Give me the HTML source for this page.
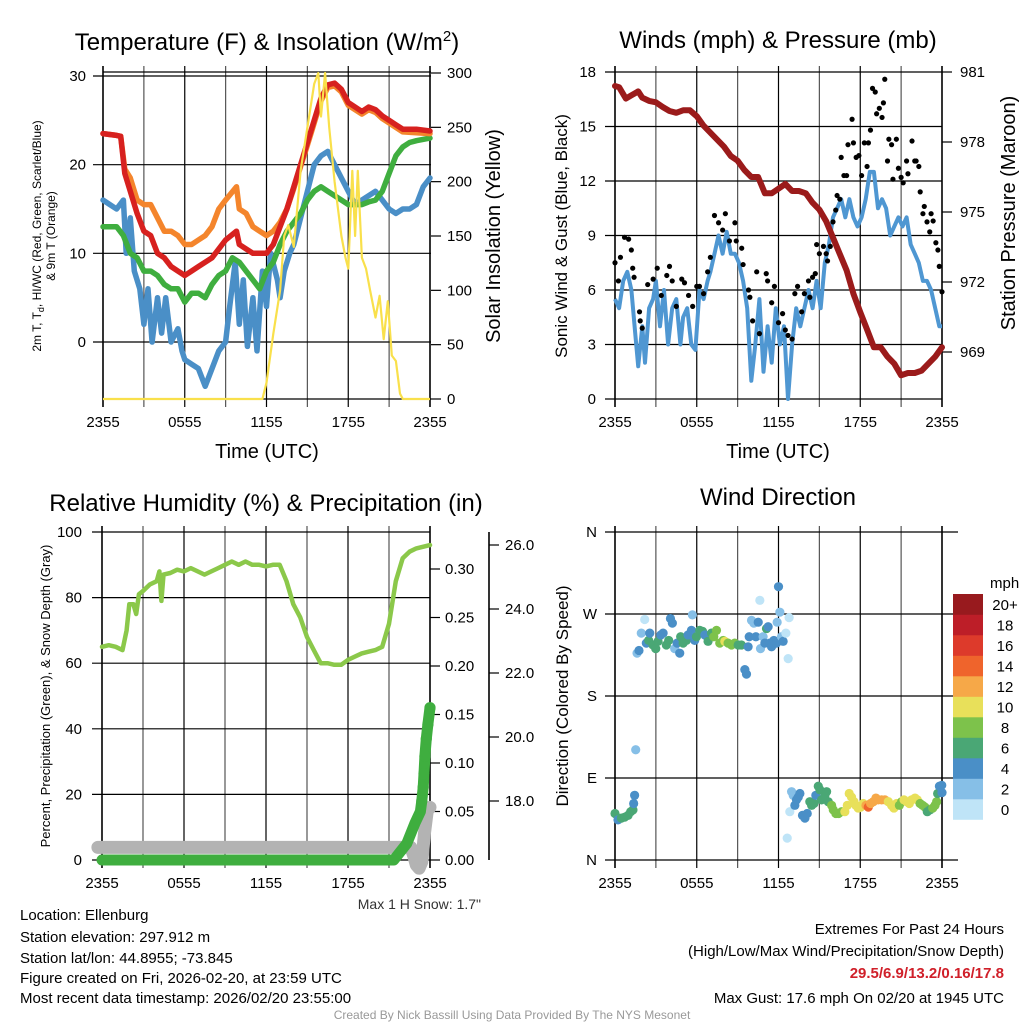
<!DOCTYPE html>
<html><head><meta charset="utf-8"><style>
html,body{margin:0;padding:0;background:#fff;}
svg{display:block;font-family:"Liberation Sans",sans-serif;}
</style></head><body>
<svg id="fig" width="1024" height="1024" viewBox="0 0 1024 1024" xmlns="http://www.w3.org/2000/svg">
<rect width="1024" height="1024" fill="#fff"/>
<text x="267" y="50" font-size="24" text-anchor="middle">Temperature (F) &amp; Insolation (W/m<tspan dy="-9" font-size="15">2</tspan><tspan dy="9">)</tspan></text>
<text x="778" y="48" font-size="24" text-anchor="middle">Winds (mph) &amp; Pressure (mb)</text>
<text x="266" y="511" font-size="24" text-anchor="middle">Relative Humidity (%) &amp; Precipitation (in)</text>
<text x="778" y="505" font-size="24" text-anchor="middle">Wind Direction</text>
<text x="267" y="458" font-size="20" text-anchor="middle">Time (UTC)</text>
<text x="778" y="458" font-size="20" text-anchor="middle">Time (UTC)</text>
<g transform="translate(41,236) rotate(-90)" font-size="12" text-anchor="middle">
<text y="0">2m T, T<tspan font-size="9" dy="3">d</tspan><tspan dy="-3">, HI/WC (Red, Green, Scarlet/Blue)</tspan></text>
<text y="14">&amp; 9m T (Orange)</text>
<text y="28"></text>
</g>
<text transform="translate(500,236) rotate(-90)" font-size="20" text-anchor="middle">Solar Insolation (Yellow)</text>
<text transform="translate(567,236) rotate(-90)" font-size="17" text-anchor="middle">Sonic Wind &amp; Gust (Blue, Black)</text>
<text transform="translate(1015,213) rotate(-90)" font-size="20" text-anchor="middle">Station Pressure (Maroon)</text>
<text transform="translate(50,696) rotate(-90)" font-size="13" text-anchor="middle">Percent, Precipitation (Green), &amp; Snow Depth (Gray)</text>
<text transform="translate(568,696) rotate(-90)" font-size="17" text-anchor="middle">Direction (Colored By Speed)</text>
<text x="481" y="909" font-size="14" text-anchor="end" fill="#333">Max 1 H Snow: 1.7"</text>
<g font-size="15">
<text x="20" y="920">Location: Ellenburg</text>
<text x="20" y="942">Station elevation: 297.912 m</text>
<text x="20" y="963">Station lat/lon: 44.8955; -73.845</text>
<text x="20" y="983">Figure created on Fri, 2026-02-20, at 23:59 UTC</text>
<text x="20" y="1003">Most recent data timestamp: 2026/02/20 23:55:00</text>
</g>
<g font-size="15" text-anchor="end">
<text x="1004" y="934">Extremes For Past 24 Hours</text>
<text x="1004" y="956">(High/Low/Max Wind/Precipitation/Snow Depth)</text>
<text x="1004" y="978" fill="#d0202a" font-weight="bold">29.5/6.9/13.2/0.16/17.8</text>
<text x="1004" y="1003">Max Gust: 17.6 mph On 02/20 at 1945 UTC</text>
</g>
<text x="512" y="1019" font-size="12" text-anchor="middle" fill="#999">Created By Nick Bassill Using Data Provided By The NYS Mesonet</text>
</svg>
<script>
// ===== Temperature panel data =====
const tempHours=[0,0.5,1,1.3,1.6,2,2.5,3,3.5,4,4.5,5,5.5,6,6.5,7,7.5,8,8.5,9,9.8,10,10.5,11,11.5,12,12.5,13,13.5,14,14.5,15,15.5,16,16.5,17,17.5,18,18.5,19,19.5,20,20.5,21,21.5,22,23,24];
const tempRed=[23.5,23.4,23.3,23.2,19,17,14.5,12.5,12,10,9.5,8.5,8,7.5,8,8.5,9,9.5,10.5,11.5,12.5,11,10.5,10,10,10,11,13,15,17.5,20,22.5,25,27.5,29,29.2,28.5,27,26.5,26,26.5,26.2,25.5,25,24.5,24,24,23.8];
const tempOrange=[23.5,23.4,23.3,23.2,19.5,18.5,16,15.5,15.5,14,12.5,12.5,12,11,11,11.5,12,13,15,16,17.5,15,14.5,13,12.5,12,12.5,13.5,15,17.3,19.8,22.2,24.7,27.2,28.7,28.9,28.2,26.7,26.2,25.7,26.2,25.9,25.2,24.7,24.2,23.7,23.6,23.5];
const dewHours=[0,1,1.5,2,2.5,3,3.5,4,4.5,5,5.5,6,6.5,7,7.5,8,8.5,9,9.5,10,10.5,11,11.5,12,12.5,13,13.5,14,14.5,15,15.5,16,16.5,17,17.5,18,18.5,19,19.5,20,20.5,21,21.5,22,22.5,23,24];
const dewGreen=[13,13,12,10,9.5,8,8,7.5,6.5,6,6,4.5,5.5,5.5,5,6.5,7.5,8,9.5,9,8,7,6,8,9,11,12.5,13.5,14.5,16,17,17.5,17,16.5,16,15.5,15.5,15.5,15.8,16,17,19,21,22,22.5,22.7,23];
const hiHours=[0,0.5,1,1.5,1.7,2,2.3,2.7,3,3.3,3.6,4,4.3,4.6,5,5.5,5.8,6,6.5,7,7.5,8,8.5,9,9.3,9.7,10,10.3,10.6,11,11.3,11.7,12,12.3,12.8,13,13.3,13.7,14,14.5,15,15.5,16,16.5,17,17.5,18,18.5,19,19.5,20,20.5,21,21.5,22,22.5,23,23.5,24];
const hiBlue=[16,15.5,15,16,10,14,8,6,2,6,0,5,1,5,0,1.5,-1,-2,-2.5,-3,-5,-3,-1,0,4,9,2,7,-0.5,5,-1,8,4,10,7,5,8,10,11,14,17,20,21,21.5,20,18.5,17,15.5,16,16.5,17,16,15,14.5,15,15,15.5,17.5,18.5];
const solarHours=[0,11.7,12,12.5,13,13.3,13.6,14,14.5,15,15.5,15.8,16,16.3,16.6,17,17.5,17.8,18,18.3,18.5,18.7,19,19.3,19.6,20,20.3,20.6,20.9,21.2,21.5,21.8,22,24];
const solarYellow=[0,0,15,60,100,150,160,140,210,250,290,300,260,300,250,200,150,130,120,210,150,210,130,120,100,75,95,55,90,40,35,5,0,0];
const tempTicks=[0,10,20,30];
const solarTicks=[0,50,100,150,200,250,300];
const timeLabels=['2355','0555','1155','1755','2355'];
// ===== Wind panel data =====
const windHours=[0,0.3,0.6,0.9,1.2,1.5,1.7,2,2.2,2.5,2.8,3,3.3,3.6,3.9,4.2,4.5,4.8,5,5.3,5.6,5.9,6.2,6.5,6.8,7,7.3,7.6,7.9,8.2,8.5,8.8,9.1,9.4,9.7,10,10.3,10.6,10.9,11.2,11.5,11.8,12.1,12.4,12.7,13,13.3,13.6,13.9,14.2,14.5,14.8,15.1,15.4,15.7,16,16.3,16.6,16.9,17.2,17.5,17.8,18.1,18.4,18.7,19,19.3,19.6,19.9,20.2,20.5,20.8,21.1,21.4,21.7,22,22.3,22.6,22.9,23.2,23.5,23.8,24];
const windBlue=[5.5,5,6.5,7,6,3.5,1.8,4,2,5,5.5,6.5,4,6,3,5,5.5,3,4.5,5,3,2.7,6,5.5,6.5,7,8,9,8,9.2,8,8,7.5,6.5,5,1,3,5.5,1.5,4,2,5,3,4,0,3,5,4,5,6,5,6.5,5,7.5,8.5,10,10.5,11,10,11,10,9.5,10,11,12.5,12.5,10.5,11,10.5,9,9.5,10,9.5,10,8.5,8,7.5,6.5,6.5,6,5,4,4];
const gustHours=[0,0.25,0.4,0.7,1.0,1.2,1.3,1.4,1.8,1.85,2.0,2.4,2.8,3.1,3.4,3.8,4.0,4.2,4.5,4.9,5.1,5.4,5.7,6.0,6.2,6.5,6.8,7.0,7.3,7.6,7.9,8.1,8.4,8.8,8.9,9.3,9.4,9.8,9.9,10.1,10.4,10.6,11.1,11.2,11.5,11.7,12.0,12.3,12.5,12.7,13.0,13.2,13.4,13.7,13.9,14.2,14.3,14.5,14.7,14.8,15.0,15.3,15.5,15.6,15.8,16.0,16.2,16.3,16.5,16.6,16.8,17.0,17.1,17.4,17.5,17.7,17.9,18.1,18.3,18.5,18.6,18.75,18.9,19.1,19.2,19.4,19.6,19.7,19.8,20.0,20.1,20.3,20.4,20.65,20.8,21.0,21.15,21.4,21.5,21.8,22.0,22.1,22.3,22.4,22.6,22.7,22.9,23.1,23.2,23.35,23.55,23.7,23.8,24];
const gustBlack=[7.5,6.5,7.8,8.9,8.8,8.2,7.2,6.7,4.8,4.3,3.9,6.3,6.6,7.2,5.7,6.8,7.3,6.5,5.1,6.6,6.4,5.7,5.1,6.2,6.2,5.8,7.0,7.8,10.1,9.7,9.3,10.2,8.7,9.7,8.7,8.3,7.4,6.0,5.6,4.3,7.0,3.6,6.9,6.5,5.3,6.2,4.2,4.7,3.8,3.5,3.3,5.8,6.2,4.8,5.8,6.5,5.6,6.7,6.9,8.5,8.0,8.4,8.0,7.6,8.4,9.75,10.4,11.2,11.0,13.3,12.3,12.3,14.0,15.4,14.1,13.3,13.4,12.3,14.1,12.8,14.1,14.8,17.1,16.9,15.7,16.0,15.5,16.3,17.6,13.1,14.3,14.0,12.1,14.3,12.7,12.2,11.9,13.1,12.4,14.2,13.1,13.1,12.8,11.4,10.2,10.6,9.75,9.2,10.2,9.8,8.6,8.2,7.3,5.9];
const presHours=[0,0.3,0.8,1.2,1.7,2,2.5,3,3.5,4,4.5,5,5.5,6,6.5,7,7.5,8,8.5,9,9.5,10,10.5,11,11.5,12,12.5,13,13.5,14,14.5,15,15.5,16,16.5,17,17.5,18,18.5,19,19.5,20,20.5,21,21.5,22,22.5,23,23.5,24];
const presMaroon=[980.4,980.35,979.86,980.0,980.17,979.9,979.76,979.7,979.5,979.33,979.25,979.36,979.36,979.1,978.7,978.4,978.1,977.8,977.4,977.2,976.8,976.5,976.5,975.8,975.8,976.0,976.2,975.9,975.9,975.8,975.4,975.1,974.6,973.9,973.2,972.5,971.5,970.7,969.96,969.2,969.2,968.8,968.5,968.0,968.1,968.1,968.2,968.5,968.8,969.2];
const windTicks=[0,3,6,9,12,15,18];
const presTicks=[969,972,975,978,981];
// ===== RH panel data =====
const rhHours=[0,0.5,1,1.5,1.8,2,2.3,2.5,2.7,3,3.5,4,4.2,4.35,4.5,5,5.5,6,6.5,7,7.5,8,8.5,9,9.5,10,10.5,11,11.5,12,12.5,13,13.5,14,14.5,15,15.5,16,16.5,17,17.5,18,18.5,19,19.5,20,20.5,21,21.5,22,22.5,23,24];
const rhGreen=[65,65.5,65,64,70,78,78,75,81,82,84,85,88,79,87,87.5,88.5,88,89,88,87,88,89,90,91,90,91,90,90,89.5,90,90,85,78,74,68,64,60,60,59.5,59.5,61,62,63,63.5,64,65,72,85,92,94,95,96];
const precipHours=[0,21.35,22.3,22.9,23.3,23.4,23.5,23.56,23.63,23.73,23.85,24];
const precipIn=[0,0,0.017,0.038,0.05,0.061,0.075,0.089,0.107,0.125,0.14,0.157];
const snowHours=[-0.3,22.6,22.8,23.0,23.2,23.4,23.6,23.8,24];
const snowDepth=[16.55,16.55,16.3,16.0,15.9,16.1,17.0,17.7,17.8];
const rhTicks=[0,20,40,60,80,100];
const precipTicks=['0.00','0.05','0.10','0.15','0.20','0.25','0.30'];
const snowTicks=['18.0','20.0','22.0','24.0','26.0'];
// ===== Wind direction data =====
const dirHours=[0,0.22,0.47,0.71,0.96,1.15,1.32,1.37,1.44,1.52,1.62,1.76,1.93,2.18,2.3,2.47,2.55,2.79,2.99,3.16,3.36,3.53,3.77,3.94,4.07,4.21,4.38,4.56,4.75,4.82,5.0,5.24,5.36,5.61,5.68,5.85,5.98,6.22,6.42,6.59,6.83,7.08,7.25,7.45,7.69,7.94,8.06,8.3,8.55,8.79,9.04,9.28,9.53,9.65,9.77,9.85,10.02,10.19,10.34,10.51,10.63,10.68,10.87,11.0,11.12,11.24,11.36,11.49,11.66,11.85,11.9,12.0,12.1,12.22,12.34,12.54,12.64,12.71,12.78,12.83,12.96,13.08,13.2,13.32,13.45,13.57,13.76,13.94,14.11,14.3,14.43,14.6,14.74,14.92,15.04,15.16,15.41,15.53,15.65,15.9,16.02,16.21,16.41,16.63,16.87,17.05,17.19,17.36,17.54,17.68,17.85,18.03,18.22,18.42,18.59,18.76,18.96,19.15,19.32,19.57,19.81,20.06,20.3,20.47,20.67,20.87,21.04,21.21,21.41,21.6,21.77,22.02,22.19,22.39,22.58,22.75,22.92,23.12,23.32,23.49,23.61,23.68,23.81,23.98,24];
const dirDeg=[51,44,46,47,49,53,55,62,71,121,227,230,249,264,238,241,249,236,232,240,247,249,236,241,265,260,232,238,227,245,238,241,247,252,269,241,245,252,251,247,240,249,245,252,238,241,240,238,236,238,236,236,209,204,234,245,263,260,245,261,285,232,245,238,254,256,238,234,241,238,261,300,272,245,240,249,24,221,266,53,75,71,60,66,69,73,49,46,51,64,60,62,71,81,77,66,71,75,64,60,55,51,51,53,53,60,73,69,64,60,57,58,62,60,58,62,64,68,66,66,66,64,60,57,62,60,64,66,64,62,66,68,66,62,60,58,53,55,57,60,64,73,81,82,74];
const dirSpeed=[6,4,6,6,6,6,6,4,4,2,2,4,2,0,4,6,4,6,6,6,4,4,6,6,4,4,2,4,4,6,6,6,4,4,2,4,6,6,6,4,6,6,8,8,8,8,10,8,8,8,6,6,4,4,4,4,2,2,4,4,0,2,2,4,6,4,4,4,4,4,2,4,2,2,4,0,0,0,0,0,2,2,4,4,4,4,4,4,4,6,6,6,4,6,6,6,6,6,6,8,8,8,8,8,10,10,10,10,10,10,10,10,10,12,14,12,12,12,12,12,12,10,10,10,10,8,8,10,10,10,10,10,10,8,8,8,6,6,8,8,8,6,4,4,4];
const dirTicks=['N','E','S','W','N'];
const speedBins=['0','2','4','6','8','10','12','14','16','18','20+'];
const binColors=['#bfe4f7','#86bfe7','#4a8fc7','#4aa775','#7dc24b','#e8e05a','#f6a848','#ef642c','#dd3a2b','#bd1e28','#981a1e'];

const NS='http://www.w3.org/2000/svg';
const svg=document.getElementById('fig');
function mk(tag,attrs,parent){const e=document.createElementNS(NS,tag);for(const k in attrs)e.setAttribute(k,attrs[k]);(parent||svg).appendChild(e);return e;}

// axis functions
const X1=t=>103+t*327/24, yT=v=>342-v*266/30, yS=v=>399-v*326/300;
const X2=t=>615+t*327/24, yW=v=>399-v*327/18, yP=v=>352-(v-969)*280/12;
const X3=t=>102+t*328/24, yRH=v=>860-v*3.28, yPr=v=>860-v*291/0.30, ySn=v=>801-(v-18)*32;
const X4=t=>615+t*327/24, yD=d=>860-d*328/360;

function frame(X,top,bot,name){
  const g=mk('g',{});
  
  
  for(let h=0;h<=24;h+=3){
    const l=mk('line',{x1:X(h),x2:X(h),y1:top-6,y2:bot+8,stroke:(h%6==0)?'#000':'#555','stroke-width':(h==0||h==24)?1.6:1.2},g);
    
    
  }
  for(let i=0;i<5;i++){
    const tx=mk('text',{x:X(i*6),y:bot+28,'font-size':15,'text-anchor':'middle'},g);
    tx.textContent=timeLabels[i];
    
    
  }
  return g;
}
function hgrid(g,X0,X1e,y,lbl,lx,anchor){
  const l=mk('line',{x1:X0-10,x2:X1e+10,y1:y,y2:y,stroke:'#000','stroke-width':1.2},g);
  
  
  if(lbl!==null){
    const t=mk('text',{x:lx,y:y+5,'font-size':15,'text-anchor':anchor},g);
    t.textContent=lbl;
    
    
  }
}
function pathD(xs,ys){return xs.map((x,i)=>(i?'L':'M')+x.toFixed(1)+' '+ys[i].toFixed(1)).join(' ');}

// ---------- Panel 1 ----------
{
  const g=frame(X1,72,399,'temp');
  mk('line',{x1:103,x2:431,y1:72,y2:72,stroke:'#000','stroke-width':1.2},g);
  tempTicks.forEach(v=>hgrid(g,103,421,yT(v),String(v),86,'end'));
  solarTicks.forEach(v=>{
    const l=mk('line',{x1:431,x2:441,y1:yS(v),y2:yS(v),stroke:'#000','stroke-width':1.2},g);
    
    
    const t=mk('text',{x:447,y:yS(v)+5,'font-size':15},g);
    t.textContent=String(v);
    
    
  });
  mk('line',{x1:103,x2:431,y1:399,y2:399,stroke:'#000','stroke-width':1.2},g);
  const series=[[hiHours,hiBlue,'#4a8fc7','hi-wc-line'],[dewHours,dewGreen,'#3fae3f','dewpoint-line'],[tempHours,tempOrange,'#f4852c','temp-9m-line'],[tempHours,tempRed,'#d7211f','temp-2m-line']];
  series.forEach(s=>{
    const p=mk('path',{d:pathD(s[0].map(X1),s[1].map(yT)),fill:'none',stroke:s[2],'stroke-width':5.5,'stroke-linejoin':'round','stroke-linecap':'round'});
    
    
  });
  const sp=mk('path',{d:pathD(solarHours.map(X1),solarYellow.map(yS)),fill:'none',stroke:'#f9e04b','stroke-width':2.2,'stroke-linejoin':'round'});
  
  
}
// ---------- Panel 2 ----------
{
  const g=frame(X2,72,399,'winds');
  windTicks.forEach(v=>hgrid(g,615,932,yW(v),String(v),596,'end'));
  presTicks.forEach(v=>{
    const l=mk('line',{x1:942,x2:952,y1:yP(v),y2:yP(v),stroke:'#000','stroke-width':1.2},g);
    
    
    const t=mk('text',{x:960,y:yP(v)+5,'font-size':15},g);
    t.textContent=String(v);
    
    
  });
  const wp=mk('path',{d:pathD(windHours.map(X2),windBlue.map(yW)),fill:'none',stroke:'#4f97d2','stroke-width':4,'stroke-linejoin':'round'});
  
  
  gustHours.forEach((h,i)=>{
    const c=mk('circle',{cx:X2(h),cy:yW(gustBlack[i]),r:2.6,fill:'#000'});
    
    
  });
  const pp=mk('path',{d:pathD(presHours.map(X2),presMaroon.map(yP)),fill:'none',stroke:'#9b1b1b','stroke-width':6,'stroke-linejoin':'round','stroke-linecap':'round'});
  
  
}
// ---------- Panel 3 ----------
{
  const g=frame(X3,532,860,'rh');
  rhTicks.forEach(v=>hgrid(g,102,420,yRH(v),String(v),82,'end'));
  precipTicks.forEach(s=>{
    const y=yPr(parseFloat(s));
    const l=mk('line',{x1:430,x2:440,y1:y,y2:y,stroke:'#000','stroke-width':1.2},g);
    
    
    const t=mk('text',{x:445,y:y+5,'font-size':15},g);
    t.textContent=s;
    
    
  });
  const ax=mk('line',{x1:489,x2:489,y1:532,y2:860,stroke:'#000','stroke-width':1.6},g);
  
  
  snowTicks.forEach(s=>{
    const y=ySn(parseFloat(s));
    const l=mk('line',{x1:489,x2:499,y1:y,y2:y,stroke:'#000','stroke-width':1.2},g);
    
    
    const t=mk('text',{x:505,y:y+5,'font-size':15},g);
    t.textContent=s;
    
    
  });
  const sn=mk('path',{d:pathD(snowHours.map(X3),snowDepth.map(ySn)),fill:'none',stroke:'#b3b3b3','stroke-width':13,'stroke-linejoin':'round','stroke-linecap':'round'});
  
  
  const pr=mk('path',{d:pathD(precipHours.map(X3),precipIn.map(yPr)),fill:'none',stroke:'#3fae3f','stroke-width':11,'stroke-linejoin':'round','stroke-linecap':'round'});
  
  
  precipHours.forEach((h,i)=>{
    if(precipIn[i]<0.055)return;
    const c=mk('circle',{cx:X3(h),cy:yPr(precipIn[i]),r:5.6,fill:'#3fae3f'});
    
    
  });
  const rp=mk('path',{d:pathD(rhHours.map(X3),rhGreen.map(yRH)),fill:'none',stroke:'#8bc84a','stroke-width':4.5,'stroke-linejoin':'round','stroke-linecap':'round'});
  
  
}
// ---------- Panel 4 ----------
{
  const g=frame(X4,532,860,'direction');
  dirTicks.forEach((s,i)=>hgrid(g,615,948,yD(i*90),s,597,'end'));
  dirHours.forEach((h,i)=>{
    const c=mk('circle',{cx:X4(h),cy:yD(dirDeg[i]),r:4.6,fill:binColors[Math.min(10,Math.floor(dirSpeed[i]/2))]});
    
    
  });
  const lg=mk('g',{});
  
  
  const mt=mk('text',{x:990,y:588,'font-size':15},lg);
  mt.textContent='mph';
  
  
  speedBins.forEach((s,i)=>{
    const y=594+(10-i)*20.5;
    const r=mk('rect',{x:953,y:y,width:30,height:20.8,fill:binColors[i]},lg);
    
    
    const t=mk('text',{x:1005,y:y+16,'font-size':15,'text-anchor':'middle'},lg);
    t.textContent=s;
    
    
  });
}
</script>
</body></html>
